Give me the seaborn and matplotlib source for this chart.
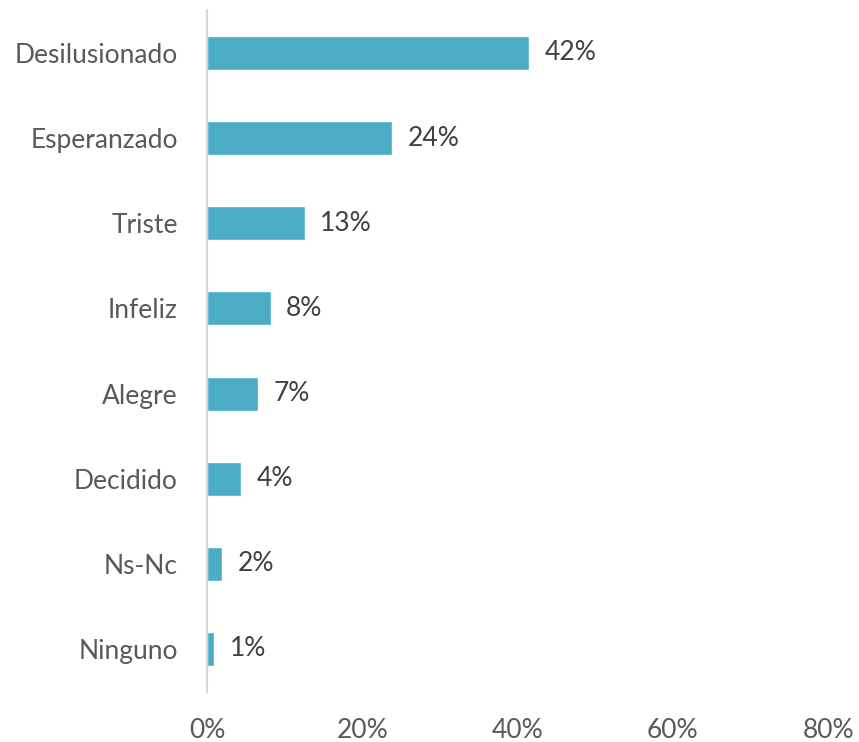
import seaborn as sns
import matplotlib.pyplot as plt
import pandas as pd
from matplotlib.ticker import PercentFormatter

# Datos
categorias = ['Desilusionado', 'Esperanzado', 'Triste', 'Infeliz', 'Alegre', 'Decidido', 'Ns-Nc', 'Ninguno']
valores = [41.5, 23.8, 12.6, 8.2, 6.6, 4.4, 1.9, 0.9]
etiquetas = ['42%', '24%', '13%', '8%', '7%', '4%', '2%', '1%']

df = pd.DataFrame({'categoria': categorias, 'valor': valores})

sns.set_style('white')
plt.rcParams['font.family'] = ['Lato', 'DejaVu Sans']

fig = plt.figure(figsize=(8.59, 7.42), dpi=100)
ax = fig.add_axes([0.241, 0.068, 0.723, 0.918])

barra = sns.barplot(data=df, x='valor', y='categoria', color='#4BACC6', width=0.4,
                    saturation=1, ax=ax)

# rótulos de datos
for patch, texto in zip(barra.patches, etiquetas):
    ax.text(patch.get_width() + 2.0, patch.get_y() + patch.get_height() / 2, texto,
            ha='left', va='center', fontsize=19, color='#404040')

ax.set_xlim(0, 80)
ax.set_ylim(7.5, -0.5)
ax.set_xticks([0, 20, 40, 60, 80])
ax.xaxis.set_major_formatter(PercentFormatter(decimals=0))
ax.set_xlabel('')
ax.set_ylabel('')
ax.tick_params(axis='both', length=0, labelsize=19, labelcolor='#595959')
ax.tick_params(axis='y', pad=21)
ax.tick_params(axis='x', pad=19)

for lado in ['top', 'right', 'bottom']:
    ax.spines[lado].set_visible(False)
ax.spines['left'].set_color('#D9D9D9')
ax.spines['left'].set_linewidth(1.5)

plt.savefig('out.png', dpi=100)
